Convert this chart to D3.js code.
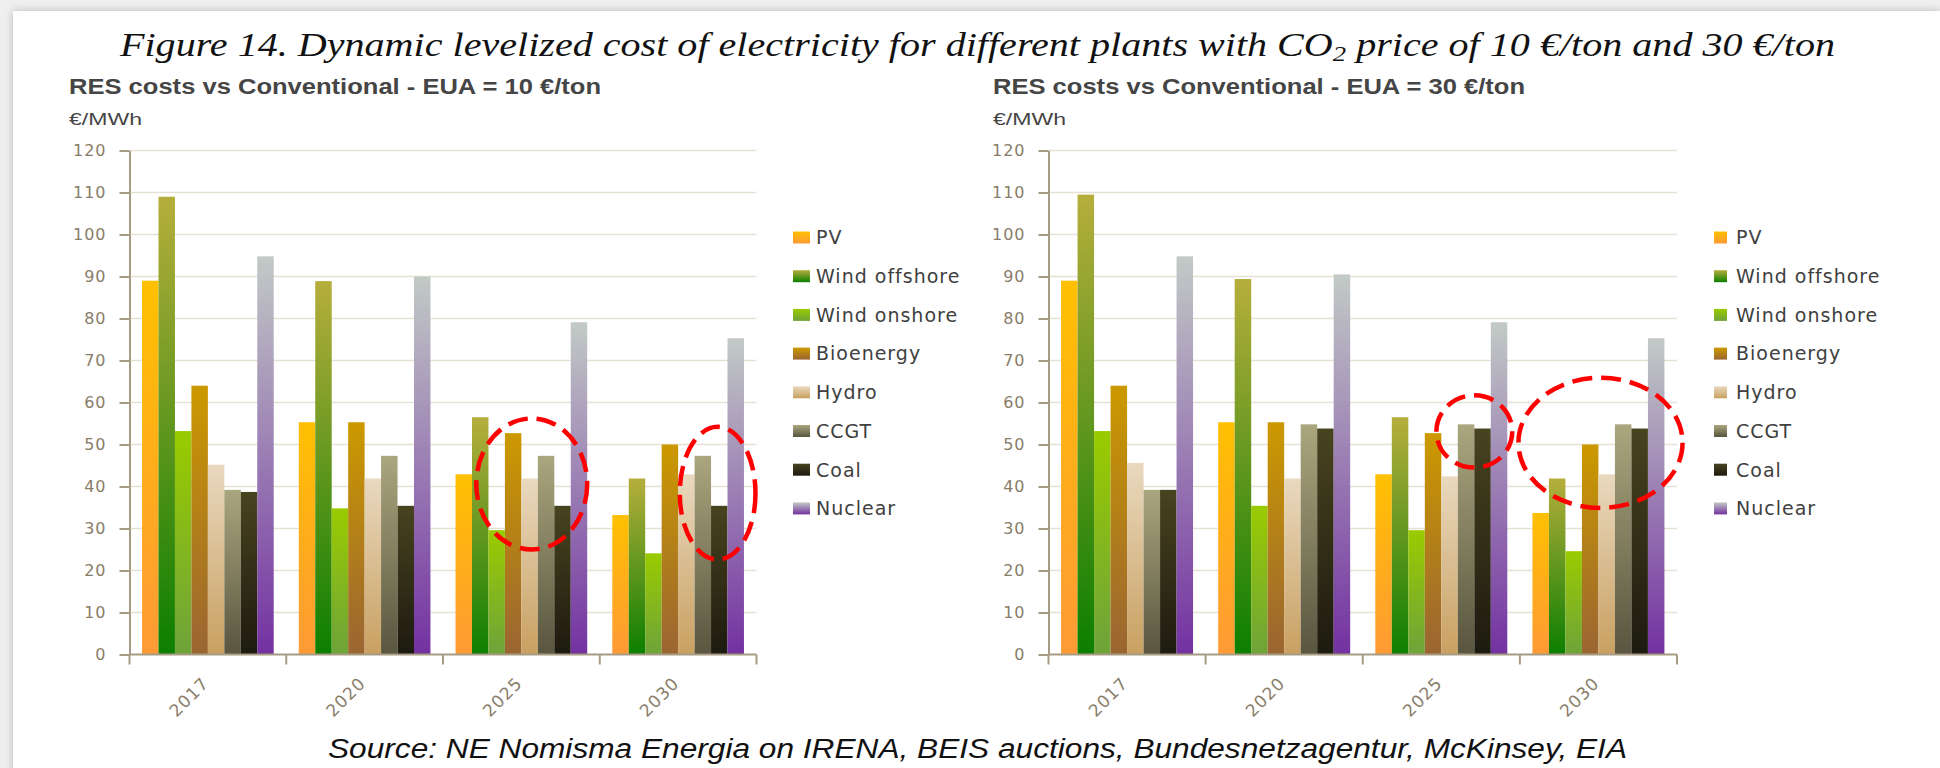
<!DOCTYPE html>
<html>
<head>
<meta charset="utf-8">
<script src="https://cdn.jsdelivr.net/npm/d3@7"></script>
<style>
  body { margin: 0; background: #efefef; }
  svg { display: block; }
</style>
</head>
<body>
<div id="drawing"></div>
<script>
// categories / series / ticks
var years = ["2017", "2020", "2025", "2030"];
var series = ["PV", "Wind offshore", "Wind onshore", "Bioenergy", "Hydro", "CCGT", "Coal", "Nuclear"];
var yTicks = [0, 10, 20, 30, 40, 50, 60, 70, 80, 90, 100, 110, 120];

// values, one row per year, in series order
var eua10 = [
    [89, 109, 53.2, 64, 45.2, 39.2, 38.7, 94.8],
    [55.3, 88.9, 34.8, 55.3, 41.9, 47.3, 35.4, 90],
    [42.9, 56.5, 29.6, 52.7, 41.9, 47.3, 35.4, 79.1],
    [33.2, 41.9, 24.1, 50, 42.9, 47.3, 35.4, 75.3]
];
var eua30 = [
    [89, 109.5, 53.2, 64, 45.6, 39.2, 39.2, 94.8],
    [55.3, 89.4, 35.4, 55.3, 41.9, 54.8, 53.8, 90.5],
    [42.9, 56.5, 29.6, 52.7, 42.4, 54.8, 53.8, 79.1],
    [33.7, 41.9, 24.6, 50, 42.9, 54.8, 53.8, 75.3]
];

// red dashed rings: year, from/to series slot, from/to value
var rings10 = [
    { year: "2025", i0: 1.26, i1: 8.0, v0: 25, v1: 56.2 },
    { year: "2030", i0: 4.1, i1: 8.7, v0: 22.6, v1: 54.2 }
];
var rings30 = [
    { year: "2025", i0: 3.7, i1: 8.3, v0: 44.5, v1: 61.7 },
    { year: "2030", i0: -0.85, i1: 9.1, v0: 34.9, v1: 65.9 }
];

var gradTop = ["#ffc000", "#b6ae3c", "#9acb00", "#cc9900", "#e9d9bf", "#aaa67e", "#48431f", "#c2cac6"];
var gradBottom = ["#ff9a36", "#0c7f00", "#6ea33a", "#9a6532", "#c9a061", "#59553f", "#1d1a10", "#7331a1"];

var W = 1940, H = 768;
var svg;

var sans = "'DejaVu Sans', Verdana, sans-serif";
var narrow = "'Liberation Sans Narrow', 'Liberation Sans', Arial, sans-serif";

function drawChart(c) {
    var x0 = d3.scaleBand().domain(years).range(c.xRange);
    var bw = x0.bandwidth();
    var pad = bw * 0.08;
    var x1 = d3.scaleBand().domain(d3.range(series.length)).range([pad, bw - pad]);
    var y = d3.scaleLinear().domain([0, 120]).range([654.5, 150.5]);
    var g = svg.append("g");

    g.append("text")
        .attr("x", c.titleX).attr("y", 94)
        .attr("font-family", narrow).attr("font-weight", "bold")
        .attr("font-size", 22).attr("fill", "#454545")
        .attr("textLength", 532).attr("lengthAdjust", "spacingAndGlyphs")
        .text(c.title);
    g.append("text")
        .attr("x", c.titleX).attr("y", 125)
        .attr("font-family", narrow).attr("font-size", 16).attr("fill", "#454545")
        .attr("textLength", 73).attr("lengthAdjust", "spacingAndGlyphs")
        .text("€/MWh");

    // gridlines
    g.selectAll(".grid").data(yTicks.slice(1)).enter().append("line")
        .attr("x1", c.xRange[0]).attr("x2", c.xRange[1])
        .attr("y1", y).attr("y2", y)
        .attr("stroke", "#e6e1d5").attr("stroke-width", 1.6);

    // bars
    var grp = g.selectAll(".year").data(c.values).enter().append("g")
        .attr("transform", function (d, i) { return "translate(" + x0(years[i]) + ",0)"; });
    grp.selectAll("rect").data(function (d) { return d; }).enter().append("rect")
        .attr("x", function (d, i) { return x1(i); })
        .attr("width", x1.bandwidth())
        .attr("y", function (d) { return y(d); })
        .attr("height", function (d) { return y(0) - y(d); })
        .attr("fill", function (d, i) { return "url(#g" + i + ")"; });

    // y axis
    var ya = g.append("g")
        .attr("transform", "translate(" + c.xRange[0] + ",0)")
        .call(d3.axisLeft(y).tickValues(yTicks).tickSize(10).tickSizeOuter(0).tickPadding(13));
    ya.select(".domain").attr("stroke", "#a89b83").attr("stroke-width", 2);
    ya.selectAll(".tick line").attr("stroke", "#a89b83").attr("stroke-width", 2);
    ya.selectAll(".tick text")
        .attr("font-family", sans).attr("font-size", 16).attr("letter-spacing", 1)
        .attr("fill", "#887d69");

    // x axis
    var bounds = years.map(function (d) { return x0(d); }).concat([c.xRange[1]]);
    g.append("line")
        .attr("x1", c.xRange[0]).attr("x2", c.xRange[1])
        .attr("y1", y(0)).attr("y2", y(0))
        .attr("stroke", "#a89b83").attr("stroke-width", 2);
    g.selectAll(".xt").data(bounds).enter().append("line")
        .attr("x1", function (d) { return d; }).attr("x2", function (d) { return d; })
        .attr("y1", y(0)).attr("y2", y(0) + 10)
        .attr("stroke", "#a89b83").attr("stroke-width", 2);
    g.selectAll(".xl").data(years).enter().append("text")
        .attr("transform", function (d) {
            return "translate(" + (x0(d) + bw / 2 + 2) + "," + (y(0) + 30) + ") rotate(-45)";
        })
        .attr("text-anchor", "end")
        .attr("font-family", sans).attr("font-size", 17).attr("letter-spacing", 1)
        .attr("fill", "#887d69")
        .text(function (d) { return d; });

    // legend
    var lg = g.selectAll(".lg").data(series).enter().append("g")
        .attr("transform", function (d, i) { return "translate(0," + (237.5 + i * 38.7) + ")"; });
    lg.append("rect")
        .attr("x", c.legendX).attr("y", -6)
        .attr("width", c.swatchW).attr("height", 12)
        .attr("fill", function (d, i) { return "url(#g" + i + ")"; });
    lg.append("text")
        .attr("x", c.textX).attr("dy", "0.36em")
        .attr("font-family", sans).attr("font-size", 19).attr("letter-spacing", 1)
        .attr("fill", "#404040")
        .text(function (d) { return d; });

    // annotation rings
    var step = x1.bandwidth();
    g.selectAll(".ring").data(c.rings).enter().append("ellipse")
        .attr("cx", function (d) { return x0(d.year) + pad + (d.i0 + d.i1) / 2 * step; })
        .attr("rx", function (d) { return (d.i1 - d.i0) / 2 * step; })
        .attr("cy", function (d) { return y((d.v0 + d.v1) / 2); })
        .attr("ry", function (d) { return (y(d.v0) - y(d.v1)) / 2; })
        .attr("fill", "none").attr("stroke", "#ff0000")
        .attr("stroke-width", 4.5).attr("stroke-dasharray", "20 9");
}

function main() {
    svg = d3.select("#drawing").append("svg")
        .attr("width", W).attr("height", H);

    var defs = svg.append("defs");
    var grads = defs.selectAll("linearGradient").data(series).enter().append("linearGradient")
        .attr("id", function (d, i) { return "g" + i; })
        .attr("x1", 0).attr("y1", 0).attr("x2", 0).attr("y2", 1);
    grads.append("stop").attr("offset", "0%").attr("stop-color", function (d, i) { return gradTop[i]; });
    grads.append("stop").attr("offset", "100%").attr("stop-color", function (d, i) { return gradBottom[i]; });
    var sh = defs.append("filter").attr("id", "shadow")
        .attr("x", "-5%").attr("y", "-5%").attr("width", "110%").attr("height", "110%");
    sh.append("feDropShadow").attr("dx", 0).attr("dy", 0)
        .attr("stdDeviation", 4).attr("flood-color", "#b8b8b8");

    svg.append("rect").attr("width", W).attr("height", H).attr("fill", "#efefef");
    svg.append("rect").attr("x", 13).attr("y", 11).attr("width", W - 13).attr("height", H)
        .attr("fill", "#ffffff").attr("filter", "url(#shadow)");

    var t = svg.append("text")
        .attr("x", 120).attr("y", 56)
        .attr("font-family", "'Liberation Serif', 'Times New Roman', serif")
        .attr("font-style", "italic").attr("font-size", 33).attr("fill", "#111")
        .attr("textLength", 1715).attr("lengthAdjust", "spacingAndGlyphs");
    t.append("tspan").text("Figure 14. Dynamic levelized cost of electricity for different plants with CO");
    t.append("tspan").attr("font-size", 22).attr("dy", 5).text("2");
    t.append("tspan").attr("dy", -5).text(" price of 10 €/ton and 30 €/ton");

    drawChart({ title: "RES costs vs Conventional - EUA = 10 €/ton", values: eua10, rings: rings10,
        xRange: [129.5, 756.5], titleX: 69, legendX: 793, swatchW: 17, textX: 816 });
    drawChart({ title: "RES costs vs Conventional - EUA = 30 €/ton", values: eua30, rings: rings30,
        xRange: [1048.5, 1677], titleX: 993, legendX: 1714, swatchW: 13, textX: 1736 });

    svg.append("text")
        .attr("x", 328).attr("y", 758)
        .attr("font-family", narrow).attr("font-style", "italic")
        .attr("font-size", 27).attr("fill", "#111")
        .attr("textLength", 1299).attr("lengthAdjust", "spacingAndGlyphs")
        .text("Source: NE Nomisma Energia on IRENA, BEIS auctions, Bundesnetzagentur, McKinsey, EIA");
}
main();
</script>
</body>
</html>
